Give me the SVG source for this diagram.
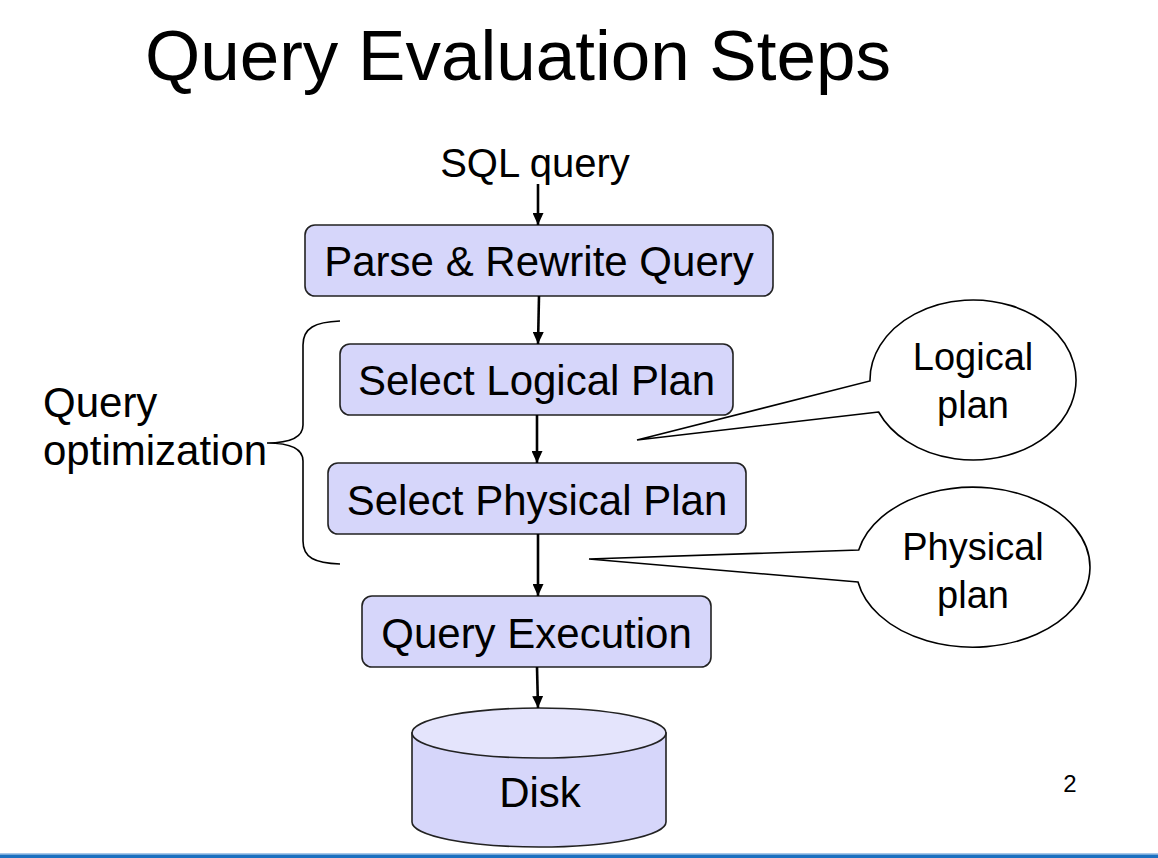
<svg xmlns="http://www.w3.org/2000/svg" width="1158" height="858" viewBox="0 0 1158 858">
<style>
text{font-family:"Liberation Sans",Arial,sans-serif;fill:#000}
.box{fill:#d6d6fa;stroke:#222;stroke-width:1.6}
.lbl{font-size:42px;text-anchor:middle}
.conn{stroke:#000;stroke-width:2.6;fill:none}
.call{fill:#fff;stroke:#000;stroke-width:1.6}
.ctext{font-size:38px;text-anchor:middle}
</style>
<defs>
<marker id="ah" markerUnits="userSpaceOnUse" markerWidth="12" markerHeight="11" refX="12" refY="5.5" orient="auto">
<path d="M0,0 L12,5.5 L0,11 Z" fill="#000"/>
</marker>
</defs>
<rect width="1158" height="858" fill="#fff"/>
<text x="145" y="80" font-size="71">Query Evaluation Steps</text>

<g id="sql">
<text x="535" y="177" font-size="40" text-anchor="middle">SQL query</text>
</g>
<g id="parse">
<rect class="box" x="305" y="225" width="468" height="71" rx="10"/>
<text class="lbl" x="539" y="276">Parse &amp; Rewrite Query</text>
</g>
<g id="logical">
<rect class="box" x="340" y="344" width="393" height="71" rx="10"/>
<text class="lbl" x="536.5" y="395">Select Logical Plan</text>
</g>
<g id="physical">
<rect class="box" x="328" y="463" width="418" height="71" rx="10"/>
<text class="lbl" x="537" y="515">Select Physical Plan</text>
</g>
<g id="execution">
<rect class="box" x="362" y="596" width="349" height="71" rx="10"/>
<text class="lbl" x="536.5" y="648">Query Execution</text>
</g>
<g id="disk">
<path d="M412,733 L412,822 A127 25 0 0 0 666,822 L666,733 Z" fill="#d6d6fa" stroke="#222" stroke-width="1.6"/>
<ellipse cx="539" cy="733" rx="127" ry="25" fill="#e4e4fc" stroke="#222" stroke-width="1.6"/>
<text class="lbl" x="540" y="807">Disk</text>
</g>

<g id="optimization">
<path d="M340,321 C315,322 303,328 303,345 L303,425 C303,437 290,443 267,443 C290,443 303,449 303,461 L303,541 C303,558 315,563 340,564" fill="none" stroke="#000" stroke-width="1.6"/>
<text x="43" y="417" font-size="42">Query</text>
<text x="43" y="465" font-size="42">optimization</text>
</g>

<g id="logical-plan">
<path class="call" d="M878.6,412 L637,440 L870,381 A103 80 0 1 1 878.6,412 Z"/>
<text class="ctext" x="973" y="370">Logical</text>
<text class="ctext" x="973" y="418">plan</text>
</g>
<g id="physical-plan">
<path class="call" d="M858,582 L589,559 L858.7,550 A117 80 0 1 1 858,582 Z"/>
<text class="ctext" x="973" y="560">Physical</text>
<text class="ctext" x="973" y="608">plan</text>
</g>

<g id="connectors">
<line class="conn" x1="538" y1="184" x2="538" y2="225" marker-end="url(#ah)"/>
<line class="conn" x1="539" y1="296" x2="538" y2="344" marker-end="url(#ah)"/>
<line class="conn" x1="537" y1="415" x2="537" y2="463" marker-end="url(#ah)"/>
<line class="conn" x1="538" y1="534" x2="538" y2="596" marker-end="url(#ah)"/>
<line class="conn" x1="537" y1="667" x2="538" y2="708" marker-end="url(#ah)"/>
</g>

<text x="1070" y="792" font-size="24" text-anchor="middle">2</text>
<rect x="0" y="853" width="1158" height="1.5" fill="#a8c8ea"/>
<rect x="0" y="854.5" width="1158" height="3.5" fill="#1b70c0"/>
</svg>
